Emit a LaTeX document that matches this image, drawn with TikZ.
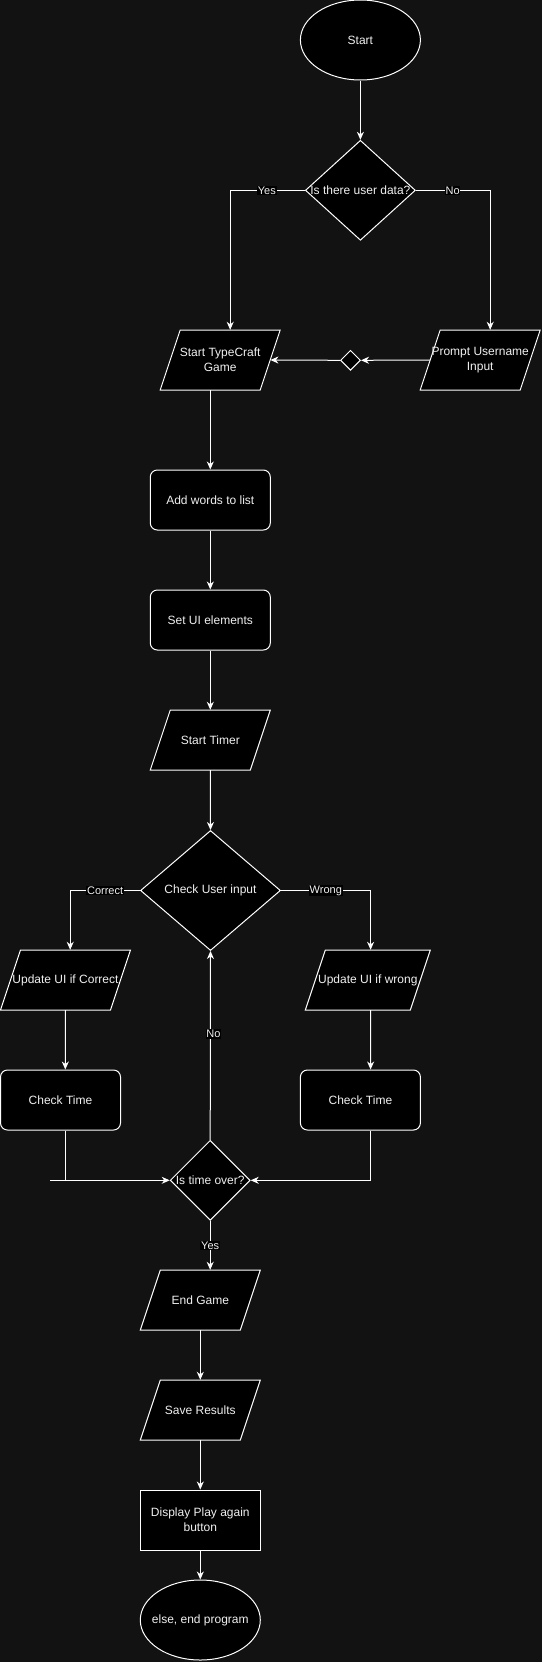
\documentclass[tikz,border=0pt]{standalone}
\usepackage{fontspec}
\setmainfont{Liberation Sans}
\usetikzlibrary{shapes.geometric,arrows.meta,calc}
\definecolor{bgc}{HTML}{121212}
\definecolor{fgc}{HTML}{F0F0F0}
\newcommand{\parabox}[5]{%
  \draw[shp] ({#2-#4/2+20},{#3-30}) -- ({#2+#4/2},{#3-30}) -- ({#2+#4/2-20},{#3+30}) -- ({#2-#4/2},{#3+30}) -- cycle;
  \node[txt, minimum width={#4pt-20pt}, minimum height=60pt] (#1) at (#2,#3) {#5};}
\begin{document}
\begin{tikzpicture}[x=1pt,y=-1pt,
  shp/.style={draw=white, fill=black, line width=1pt},
  txt/.style={text=fgc, font=\fontsize{12}{15}\selectfont, align=center, inner sep=0pt},
  term/.style={shp, ellipse, minimum width=120pt, minimum height=80pt, inner sep=0pt},
  dec/.style={shp, diamond, inner sep=0pt},
  proc/.style={shp, txt, rectangle, rounded corners=7pt, minimum width=120pt, minimum height=60pt},
  plain/.style={shp, txt, rectangle, minimum width=120pt, minimum height=60pt},
  ln/.style={draw=white, line width=1pt},
  arr/.style={ln, -{Stealth[length=8pt,width=7pt,inset=2.5pt]}},
  lbl/.style={fill=black, text=fgc, font=\fontsize{11}{13}\selectfont, inner sep=0.8pt}
]
\fill[bgc] (0,0) rectangle (542,1662);
\useasboundingbox (0,0) rectangle (542,1662);

% nodes
\node[term] (start) at (360.4,40) {};
\node[txt] (startt) at (start) {Start};
\node[dec, minimum width=110pt, minimum height=100pt] (q1) at (360.4,190.3) {};
\node[txt] (q1t) at (q1) {Is there user data?};
\parabox{stg}{220.2}{360}{120}{Start TypeCraft\\Game}
\parabox{pun}{480.2}{360}{120}{Prompt Username\\Input}
\node[dec, minimum width=20pt, minimum height=20pt] (sd) at (350.5,360.3) {};
\node[proc] (add) at (210.3,500) {Add words to list};
\node[proc] (setui) at (210.3,620) {Set UI elements};
\parabox{timer}{210.3}{740}{120}{Start Timer}
\node[dec, minimum width=140pt, minimum height=120pt] (cui) at (210.5,890.5) {};
\node[txt] (cuit) at (cui) {Check User input};
\parabox{upc}{65.5}{980}{130}{Update UI if Correct}
\parabox{upw}{367.8}{980}{125}{Update UI if wrong}
\node[proc] (ct1) at (60.5,1100) {Check Time};
\node[proc] (ct2) at (360.4,1100) {Check Time};
\node[dec, minimum width=80pt, minimum height=80pt] (ito) at (210.2,1180.3) {};
\node[txt] (itot) at (ito) {Is time over?};
\parabox{endg}{200.3}{1300}{120}{End Game}
\parabox{save}{200.3}{1410}{120}{Save Results}
\node[plain] (disp) at (200.3,1520) {Display Play again\\button};
\node[term] (endp) at (200.3,1620) {};
\node[txt] (endpt) at (endp) {else, end program};
\coordinate (stub) at (50.1,1180.3);

% connectors
\draw[arr] (start.south) -- (q1.north);
\draw[arr] (q1.west) -| ($(stg.north)+(10,0)$) node[lbl, pos=0.255] {Yes};
\draw[arr] (q1.east) -| ($(pun.north)+(10,0)$) node[lbl, pos=0.247] {No};
\draw[arr] (pun.west) -- (sd.east);
\draw[arr] (sd.west) -- (stg.east);
\draw[arr] (stg.south -| add.north) -- (add.north);
\draw[arr] (add.south) -- (setui.north);
\draw[arr] (setui.south) -- (timer.north);
\draw[arr] (timer.south) -- (cui.north);
\draw[arr] (cui.west) -| ($(upc.north)+(4.7,0)$) node[lbl, pos=0.25] {Correct};
\draw[arr] (cui.east) -| ($(upw.north)+(2.8,0)$) node[lbl, pos=0.25] {Wrong};
\draw[arr] (upc.south) -- ($(ct1.north)+(4.8,0)$);
\draw[arr] ($(upw.south)+(2.8,0)$) -- ($(ct2.north)+(10.2,0)$);
\draw[arr] ($(ct1.south)+(4.8,0)$) |- (ito.west);
\draw[ln] (stub) -- ($(stub)+(16,0)$);
\draw[arr] ($(ct2.south)+(10.2,0)$) |- (ito.east);
\draw[arr] (ito.north) -- (cui.south) node[lbl, pos=0.56, xshift=3pt] {No};
\draw[arr] (ito.south) -- (ito.south |- endg.north) node[lbl, midway] {Yes};
\draw[arr] (endg.south) -- (save.north);
\draw[arr] (save.south) -- (disp.north);
\draw[arr] (disp.south) -- (endp.north);
\end{tikzpicture}
\end{document}
